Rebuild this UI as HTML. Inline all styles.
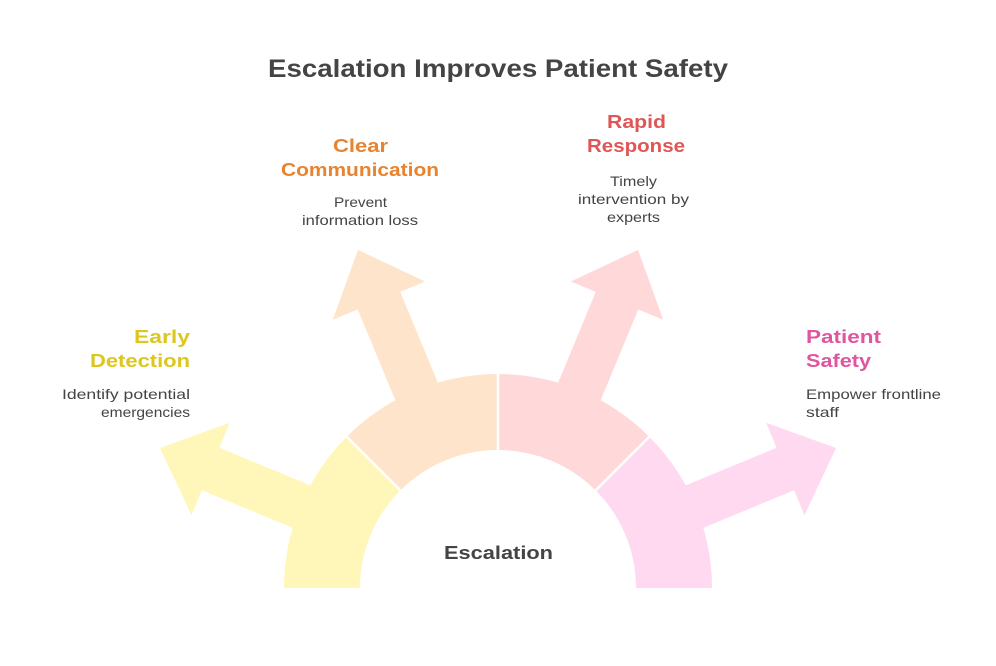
<!DOCTYPE html>
<html><head><style>
body{margin:0;background:#fff;}
svg text{font-family:"Liberation Sans",sans-serif;}
</style></head><body>
<svg width="996" height="661" viewBox="0 0 996 661" xmlns="http://www.w3.org/2000/svg">
<defs>
<polygon id="arr" points="140,-23 311,-23 311,-50 366,0 311,50 311,23 140,23"/>
</defs>
<g transform="translate(498,588)">
<use href="#arr" fill="#FFF7BA" transform="rotate(-157.5)"/>
<use href="#arr" fill="#FFE4CC" transform="rotate(-112.5)"/>
<use href="#arr" fill="#FFD9D9" transform="rotate(-67.5)"/>
<use href="#arr" fill="#FFD9F0" transform="rotate(-22.5)"/>
<path d="M-214,0 A214,214 0 0 1 -151.3,-151.3 L-97.6,-97.6 A138,138 0 0 0 -138,0 Z" fill="#FFF7BA"/>
<path d="M-151.3,-151.3 A214,214 0 0 1 0,-214 L0,-138 A138,138 0 0 0 -97.6,-97.6 Z" fill="#FFE4CC"/>
<path d="M0,-214 A214,214 0 0 1 151.3,-151.3 L97.6,-97.6 A138,138 0 0 0 0,-138 Z" fill="#FFD9D9"/>
<path d="M151.3,-151.3 A214,214 0 0 1 214,0 L138,0 A138,138 0 0 0 97.6,-97.6 Z" fill="#FFD9F0"/>
<g stroke="#fff" stroke-width="2.5">
<line x1="-95" y1="-95" x2="-155" y2="-155"/>
<line x1="0" y1="-134" x2="0" y2="-218"/>
<line x1="95" y1="-95" x2="155" y2="-155"/>
</g>
</g>
<g lengthAdjust="spacingAndGlyphs">
<text x="268" y="77" font-size="25" font-weight="bold" fill="#444" textLength="460" lengthAdjust="spacingAndGlyphs">Escalation Improves Patient Safety</text>
<text x="444" y="559" font-size="18" font-weight="bold" fill="#444" textLength="109" lengthAdjust="spacingAndGlyphs">Escalation</text>
<g font-size="18" font-weight="bold">
<text x="134" y="343" fill="#DDC71C" textLength="56" lengthAdjust="spacingAndGlyphs">Early</text>
<text x="90" y="367" fill="#DDC71C" textLength="100" lengthAdjust="spacingAndGlyphs">Detection</text>
<text x="333" y="152" fill="#E8832F" textLength="55" lengthAdjust="spacingAndGlyphs">Clear</text>
<text x="281" y="176" fill="#E8832F" textLength="158" lengthAdjust="spacingAndGlyphs">Communication</text>
<text x="607" y="128" fill="#E05555" textLength="59" lengthAdjust="spacingAndGlyphs">Rapid</text>
<text x="587" y="152" fill="#E05555" textLength="98" lengthAdjust="spacingAndGlyphs">Response</text>
<text x="806" y="343" fill="#E0559F" textLength="75" lengthAdjust="spacingAndGlyphs">Patient</text>
<text x="806" y="367" fill="#E0559F" textLength="65" lengthAdjust="spacingAndGlyphs">Safety</text>
</g>
<g font-size="14" fill="#444">
<text x="62" y="399" textLength="128" lengthAdjust="spacingAndGlyphs">Identify potential</text>
<text x="101" y="417" textLength="89" lengthAdjust="spacingAndGlyphs">emergencies</text>
<text x="334" y="207" textLength="53" lengthAdjust="spacingAndGlyphs">Prevent</text>
<text x="302" y="225" textLength="116" lengthAdjust="spacingAndGlyphs">information loss</text>
<text x="610" y="186" textLength="47" lengthAdjust="spacingAndGlyphs">Timely</text>
<text x="578" y="204" textLength="111" lengthAdjust="spacingAndGlyphs">intervention by</text>
<text x="607" y="222" textLength="53" lengthAdjust="spacingAndGlyphs">experts</text>
<text x="806" y="399" textLength="135" lengthAdjust="spacingAndGlyphs">Empower frontline</text>
<text x="806" y="417" textLength="33" lengthAdjust="spacingAndGlyphs">staff</text>
</g>
</g>
</svg>
</body></html>
